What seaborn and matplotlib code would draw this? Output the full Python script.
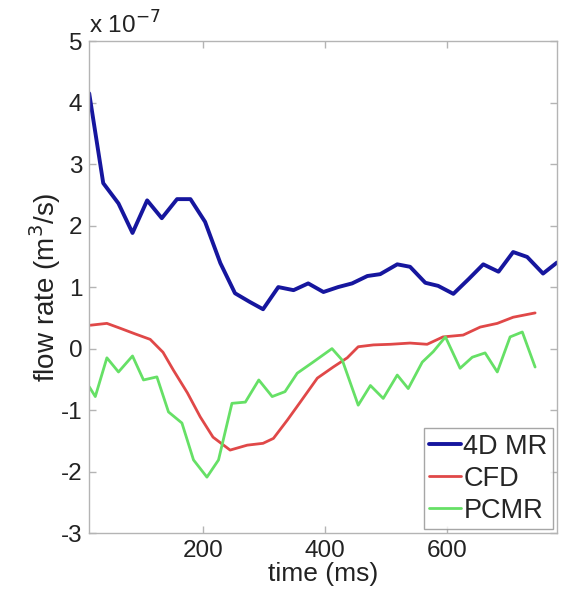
import pandas as pd
import matplotlib
matplotlib.use("Agg")
import matplotlib.pyplot as plt
import seaborn as sns
from matplotlib.ticker import FuncFormatter

# data (flow rate in units of 1e-7 m^3/s)
t_mr = [13, 36, 61, 84, 108, 132, 157, 179, 203, 228, 252, 276, 298, 323, 348, 372, 397,
        421, 444, 469, 490, 518, 539, 564, 585, 610, 635, 659, 684, 708, 731, 757, 780]
q_mr = [4.15, 2.69, 2.36, 1.88, 2.41, 2.12, 2.43, 2.43, 2.06, 1.39, 0.90, 0.76, 0.64, 1.00,
        0.95, 1.06, 0.92, 1.00, 1.06, 1.18, 1.21, 1.37, 1.33, 1.07, 1.02, 0.89, 1.13, 1.37,
        1.25, 1.57, 1.49, 1.22, 1.40]

t_cfd = [15, 42, 64, 88, 113, 134, 151, 174, 195, 216, 244, 272, 298, 315, 338, 359, 387,
         413, 436, 454, 479, 507, 539, 567, 593, 626, 654, 682, 708, 744]
q_cfd = [0.38, 0.41, 0.33, 0.24, 0.15, -0.06, -0.35, -0.72, -1.11, -1.44, -1.65, -1.57,
         -1.54, -1.46, -1.16, -0.87, -0.48, -0.30, -0.15, 0.03, 0.06, 0.07, 0.09, 0.07,
         0.19, 0.22, 0.35, 0.41, 0.51, 0.58]

t_pc = [13, 23, 42, 61, 84, 102, 124, 143, 165, 184, 206, 225, 247, 269, 291, 313, 334,
        354, 380, 411, 428, 454, 474, 495, 518, 536, 559, 577, 597, 621, 641, 662, 682,
        703, 723, 744]
q_pc = [-0.62, -0.78, -0.15, -0.38, -0.12, -0.51, -0.46, -1.03, -1.21, -1.81, -2.09, -1.81,
        -0.89, -0.87, -0.51, -0.78, -0.70, -0.40, -0.22, 0.00, -0.19, -0.92, -0.60, -0.81,
        -0.43, -0.65, -0.22, -0.05, 0.19, -0.32, -0.14, -0.07, -0.38, 0.19, 0.27, -0.30]

scale = 1e-7
df_mr = pd.DataFrame({"t": t_mr, "q": [v * scale for v in q_mr]})
df_cfd = pd.DataFrame({"t": t_cfd, "q": [v * scale for v in q_cfd]})
df_pc = pd.DataFrame({"t": t_pc, "q": [v * scale for v in q_pc]})

sns.set_style("white")
plt.rcParams["font.family"] = ["Liberation Sans", "DejaVu Sans"]

fig = plt.figure(figsize=(5.61, 5.95), dpi=100)
ax = fig.add_axes([0.159, 0.104, 0.834, 0.827])

sns.lineplot(data=df_mr, x="t", y="q", ax=ax, color="#16169e", linewidth=2.8, label="4D MR")
sns.lineplot(data=df_cfd, x="t", y="q", ax=ax, color="#e04848", linewidth=2.0, label="CFD")
sns.lineplot(data=df_pc, x="t", y="q", ax=ax, color="#66e066", linewidth=2.0, label="PCMR")

ax.set_xlim(13, 780)
ax.set_ylim(-3e-7, 5e-7)
ax.set_xticks([200, 400, 600])
ax.set_yticks([i * scale for i in range(-3, 6)])
ax.yaxis.set_major_formatter(FuncFormatter(lambda v, p: f"{round(v / scale):d}"))

for s in ax.spines.values():
    s.set_color("#b4b4b4")
    s.set_linewidth(1.0)
ax.tick_params(direction="in", length=5, width=1, colors="#b4b4b4",
               labelcolor="#222222", labelsize=17.5, top=True, right=True,
               left=True, bottom=True, pad=5)

ax.set_xlabel("time (ms)", fontsize=19, color="#222222", labelpad=0)
ax.set_ylabel("flow rate (m$^3$/s)", fontsize=20, color="#222222", labelpad=-2)
ax.text(0.0, 1.005, "x 10$^{-7}$", transform=ax.transAxes, fontsize=17.5,
        color="#222222", ha="left", va="bottom")

leg = ax.legend(loc="lower right", fontsize=19.5, frameon=True, fancybox=False,
                borderaxespad=0.15, handlelength=1.15, handletextpad=0.1,
                labelspacing=0.22, borderpad=0.2)
leg.get_frame().set_edgecolor("#909090")
leg.get_frame().set_linewidth(1.0)

fig.savefig("out.png", dpi=100)
